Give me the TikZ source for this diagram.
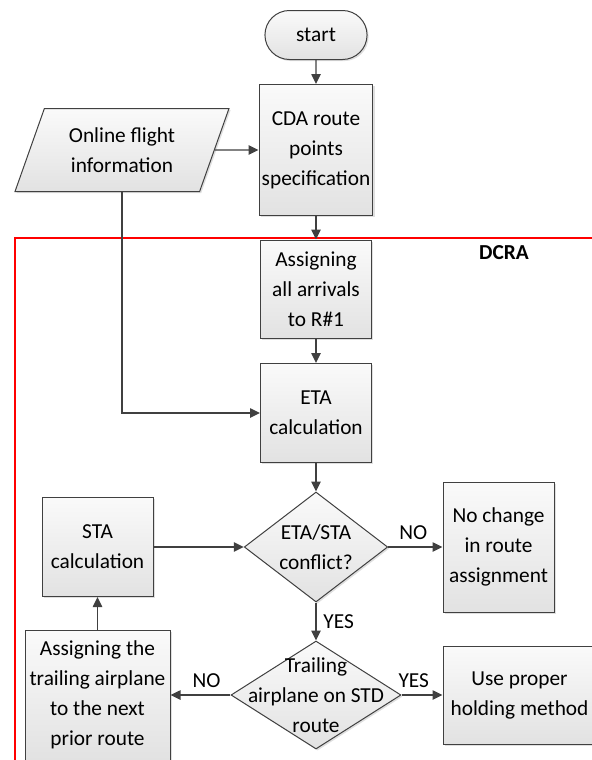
\documentclass[tikz,border=0pt]{standalone}
\usepackage{fontspec}
\setmainfont{Carlito}
\definecolor{flowGray}{RGB}{64,64,64}
\definecolor{boxTop}{RGB}{250,250,250}
\definecolor{boxBottom}{RGB}{226,226,226}
\definecolor{dcraRed}{RGB}{255,0,0}
\usetikzlibrary{shapes.geometric,shapes.misc,arrows.meta,shadows}

\begin{document}
\begin{tikzpicture}[x=0.75pt, y=-0.75pt,
  every node/.style={font=\fontsize{16pt}{22.5pt}\selectfont, align=center},
  boxlook/.style={draw=flowGray, line width=0.75pt, top color=boxTop, bottom color=boxBottom,
    drop shadow={shadow xshift=1.2pt, shadow yshift=-1.2pt, opacity=0.25}},
  proc/.style={boxlook, rectangle, minimum width=83.25pt, inner sep=2pt},
  term/.style={boxlook, rounded rectangle, minimum width=83.25pt, minimum height=36.75pt},
  data/.style={boxlook, trapezium, trapezium left angle=68, trapezium right angle=112,
    trapezium stretches=true, minimum width=160.5pt, minimum height=62.25pt},
  dec/.style={boxlook, diamond, inner sep=0pt},
  arr/.style={draw=flowGray, line width=1.1pt, -{Triangle[length=7.5pt, width=7pt]}},
  lbl/.style={inner sep=5pt}
]
  \useasboundingbox (0,0) rectangle (592,760);
  \clip (0,0) rectangle (592,760);
  % DCRA frame
  \draw[dcraRed, line width=2.1pt] (600,238) -- (15,238) -- (15,775);
  \node[font=\fontsize{16pt}{22.5pt}\selectfont\bfseries] (dcra) at (504,253) {DCRA};
  % Nodes
  \node[term] (start) at (316,35) {start};
  \node[proc, minimum height=98.25pt] (cda) at (316,150) {CDA route\\points\\specification};
  \node[data] (online) at (122,150) {Online flight\\information};
  \node[proc, minimum height=73.5pt] (assign) at (316,289) {Assigning\\all arrivals\\to R\#1};
  \node[proc, minimum height=74.25pt] (eta) at (316,413) {ETA\\calculation};
  \node[dec, minimum width=107.6pt, minimum height=82.5pt,
    label={center:{ETA/STA\\conflict?}}] (conflict) at (316,547) {};
  \node[proc, minimum height=74.25pt] (sta) at (97.5,547) {STA\\calculation};
  \node[proc, minimum height=97.5pt] (nochange) at (498.5,547) {No change\\in route\\assignment};
  \node[dec, minimum width=127.5pt, minimum height=81pt,
    label={center:{Trailing\\airplane on STD\\route}}] (trailing) at (316,695) {};
  \node[proc, minimum width=108.75pt, minimum height=97.5pt] (assignnext) at (97.5,695)
    {Assigning the\\trailing airplane\\to the next\\prior route};
  \node[proc, minimum width=114.75pt, minimum height=73.5pt] (holding) at (519.5,695)
    {Use proper\\holding method};
  % Arrows
  \draw[arr] (start) -- (cda);
  \draw[arr] (online) -- (cda);
  \draw[arr] (cda) -- (assign);
  \draw[arr] (assign) -- (eta);
  \draw[arr] (online.south) |- (eta.west);
  \draw[arr] (eta) -- (conflict);
  \draw[arr] (sta) -- (conflict);
  \draw[arr] (conflict) -- node[lbl, pos=0.46, above] {NO} (nochange);
  \draw[arr] (conflict) -- node[lbl, right] {YES} (trailing);
  \draw[arr] (trailing) -- node[lbl, pos=0.4, above] {NO} (assignnext);
  \draw[arr] (trailing) -- node[lbl, pos=0.3, above] {YES} (holding);
  \draw[arr] (assignnext) -- (sta);
\end{tikzpicture}
\end{document}
